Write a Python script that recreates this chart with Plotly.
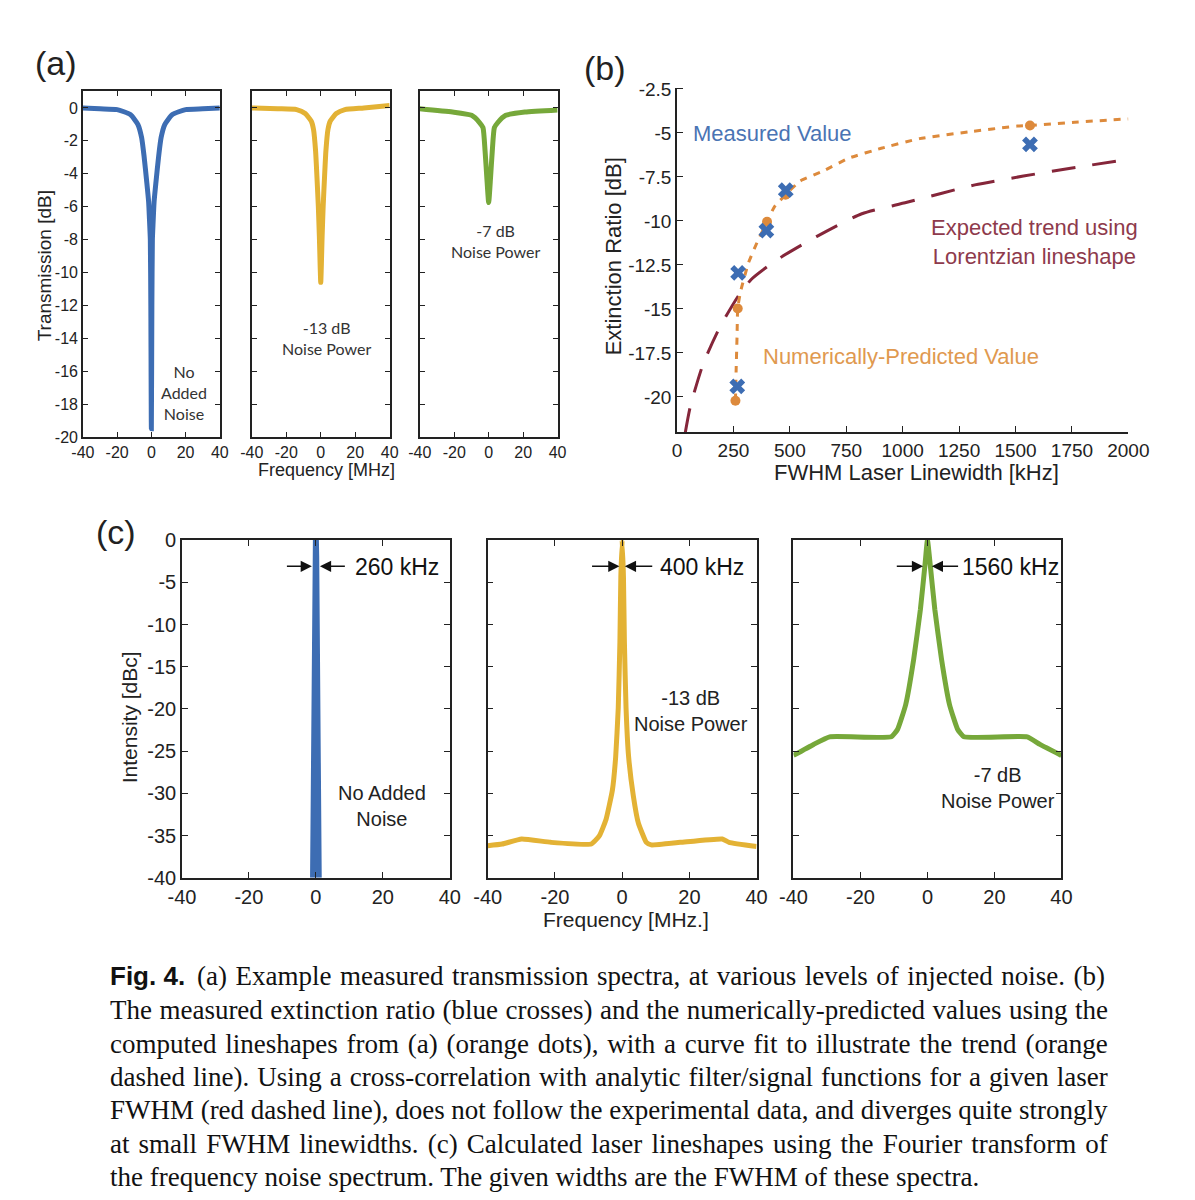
import plotly.graph_objects as go

# ---------------- data ----------------
# (a) measured transmission spectra [MHz, dB]
a1_x = [-40, -30, -20, -12.3, -7.9, -5.7, -4.3, -2.7, -1.6, -1.0, -0.6, -0.3, 0,
        0.3, 0.6, 1.0, 1.6, 2.7, 4.3, 5.7, 7.9, 12.3, 20, 30, 40]
a1_y = [0, -0.05, -0.1, -0.4, -1.0, -1.8, -2.9, -4.5, -5.7, -7.0, -8.0, -12, -19.5,
        -12, -8.0, -7.0, -5.7, -4.5, -2.9, -1.8, -1.0, -0.4, -0.1, -0.05, 0]
a2_x = [-40, -25, -14, -9, -5.5, -4.2, -3.0, -2.2, -1.4, -0.8, 0,
        0.8, 1.4, 2.2, 3.0, 4.2, 5.5, 9, 14, 25, 40]
a2_y = [0, -0.05, -0.1, -0.34, -0.8, -1.3, -2.6, -4.2, -6.0, -7.8, -10.6,
        -7.8, -6.0, -4.2, -2.6, -1.3, -0.8, -0.34, -0.1, 0.0, 0.15]
a3_x = [-40, -21, -9.9, -5.2, -3.3, -2.1, -1.1, 0, 1.1, 2.1, 3.3, 5.2, 9.9, 21, 40]
a3_y = [-0.05, -0.25, -0.45, -0.9, -1.2, -2.6, -4.2, -5.75, -4.2, -2.6, -1.2, -0.9, -0.45, -0.25, -0.12]

# (b) extinction ratio vs FWHM linewidth [kHz, dB]
meas_x = [267, 271, 396, 482, 1564]
meas_y = [-19.4, -12.95, -10.55, -8.25, -5.65]
pred_x = [259, 269, 399, 481, 1564]
pred_y = [-20.22, -14.97, -10.05, -8.51, -4.58]
fit_x = [259, 262, 266, 269, 281, 317, 360, 399, 431, 481, 546, 647, 761, 905, 1075, 1290, 1507, 1564, 1763, 2000]
fit_y = [-20.22, -18.5, -16.6, -14.97, -14.04, -12.37, -11.07, -10.05, -9.21, -8.51, -7.73, -7.17, -6.43, -5.87, -5.32, -4.94, -4.61, -4.58, -4.39, -4.2]
lor_x = [37, 59, 116, 188, 274, 331, 446, 618, 819, 1019, 1320, 1535, 1751, 2000]
lor_y = [-22.0, -20.54, -18.12, -16.08, -14.22, -13.3, -12.18, -10.89, -9.59, -8.94, -7.95, -7.45, -6.99, -6.5]

# (c) calculated lineshapes [MHz, dBc]
c1_x = [-0.85, -0.1, 0, 0.1, 0.85]
c1_y = [-40, -2, 0, -2, -40]
c2_x = [-40, -35.7, -29.9, -21.2, -9.2, -6.75, -4.8, -2.9, -1.93, -1.16, -0.67, -0.39, 0,
        0.39, 0.67, 1.16, 1.93, 3.37, 4.82, 7.2, 8.67, 17.3, 29.8, 31.8, 40]
c2_y = [-36.2, -36.0, -35.4, -35.8, -36.0, -35.0, -33.1, -29.6, -25.7, -19.9, -12.1, -4.35, 0,
        -4.35, -12.1, -19.9, -25.7, -30.4, -33.5, -35.8, -36.1, -35.8, -35.4, -35.8, -36.3]
c3_x = [-40, -34, -29.2, -10.8, -8.9, -6.5, -4.1, -2.1, -0.7, 0, 0.8, 2.2, 4.2, 6.6, 9, 10.9, 29.8, 33.6, 40]
c3_y = [-25.5, -24.2, -23.3, -23.3, -22.4, -19.5, -14.1, -8.2, -2.8, 0, -2.8, -8.2, -14.1, -19.5, -22.4, -23.3, -23.3, -24.2, -25.5]

# tick labels
a_xticks = [-40, -20, 0, 20, 40]
a_xticktext = ["-40", "-20", "0", "20", "40"]
a_yticks = [0, -2, -4, -6, -8, -10, -12, -14, -16, -18, -20]
a_yticktext = ["0", "-2", "-4", "-6", "-8", "-10", "-12", "-14", "-16", "-18", "-20"]
b_xticks = [0, 250, 500, 750, 1000, 1250, 1500, 1750, 2000]
b_yticks = [-2.5, -5, -7.5, -10, -12.5, -15, -17.5, -20]
b_yticktext = ["-2.5", "-5", "-7.5", "-10", "-12.5", "-15", "-17.5", "-20"]
c_yticks = [0, -5, -10, -15, -20, -25, -30, -35, -40]
c_yticktext = ["0", "-5", "-10", "-15", "-20", "-25", "-30", "-35", "-40"]

caption_first = "(a) Example measured transmission spectra, at various levels of injected noise. (b)"
caption_lines = [
    "The measured extinction ratio (blue crosses) and the numerically-predicted values using the",
    "computed lineshapes from (a) (orange dots), with a curve fit to illustrate the trend (orange",
    "dashed line). Using a cross-correlation with analytic filter/signal functions for a given laser",
    "FWHM (red dashed line), does not follow the experimental data, and diverges quite strongly",
    "at small FWHM linewidths. (c) Calculated laser lineshapes using the Fourier transform of",
    "the frequency noise spectrum. The given widths are the FWHM of these spectra.",
]

# ---------------- style ----------------
BLUE = "#3d6db3"
YELLOW = "#e3b235"
GREEN = "#76a83a"
ORANGE = "#dd8a3c"
RED = "#85263a"
W, H = 1195, 1200
SANS = "Liberation Sans, Arial, sans-serif"
HUM = "Lato, Open Sans, sans-serif"
SERIF = "Liberation Serif, Times New Roman, serif"
CAP_SIZE = 27

# Times metrics (1/1000 em) used to justify caption lines
_TW = {" ": 250, "(": 333, ")": 333, ",": 250, "-": 333, ".": 250, "/": 278}
_TW.update({d: 500 for d in "0123456789"})
_TW.update(dict(zip("ABCDEFGHIJKLMNOPQRSTUVWXYZ",
                    [722, 667, 667, 722, 611, 556, 722, 722, 333, 389, 722, 611, 889, 722, 722, 556, 722, 667, 556, 611, 722, 722, 944, 722, 722, 611])))
_TW.update(dict(zip("abcdefghijklmnopqrstuvwxyz",
                    [444, 500, 444, 500, 444, 333, 500, 500, 278, 278, 500, 278, 778, 500, 500, 500, 500, 333, 389, 278, 500, 500, 722, 500, 500, 444])))


def justified(text, target_px, size):
    nat = sum(_TW.get(ch, 500) for ch in text) / 1000.0 * size
    n_sp = text.count(" ")
    ws = (target_px - nat) / n_sp if n_sp else 0
    return f'<span style="word-spacing:{ws:.2f}px">{text}</span>'


def px(x):
    return x / W


def py(y):
    return 1 - y / H


fig = go.Figure()

fig.add_trace(go.Scatter(x=a1_x, y=a1_y, mode="lines", line=dict(color=BLUE, width=5, shape="spline", smoothing=0.5), xaxis="x", yaxis="y"))
fig.add_trace(go.Scatter(x=a2_x, y=a2_y, mode="lines", line=dict(color=YELLOW, width=5, shape="spline", smoothing=0.5), xaxis="x2", yaxis="y2"))
fig.add_trace(go.Scatter(x=a3_x, y=a3_y, mode="lines", line=dict(color=GREEN, width=5, shape="spline", smoothing=0.5), xaxis="x3", yaxis="y3"))

fig.add_trace(go.Scatter(x=lor_x, y=lor_y, mode="lines", line=dict(color=RED, width=3, dash="24px,17px", shape="spline", smoothing=0.6), xaxis="x4", yaxis="y4"))
fig.add_trace(go.Scatter(x=fit_x, y=fit_y, mode="lines", line=dict(color=ORANGE, width=3, dash="7px,7px", shape="spline", smoothing=0.4), xaxis="x4", yaxis="y4"))
fig.add_trace(go.Scatter(x=pred_x, y=pred_y, mode="markers", marker=dict(color=ORANGE, size=10), xaxis="x4", yaxis="y4"))
fig.add_trace(go.Scatter(x=meas_x, y=meas_y, mode="markers", marker=dict(color=BLUE, size=14, symbol="x", line=dict(width=0)), xaxis="x4", yaxis="y4"))

fig.add_trace(go.Scatter(x=c1_x, y=c1_y, mode="lines", line=dict(color=BLUE, width=6), xaxis="x5", yaxis="y5"))
fig.add_trace(go.Scatter(x=c2_x, y=c2_y, mode="lines", line=dict(color=YELLOW, width=5, shape="spline", smoothing=0.4), xaxis="x6", yaxis="y6"))
fig.add_trace(go.Scatter(x=c3_x, y=c3_y, mode="lines", line=dict(color=GREEN, width=5, shape="spline", smoothing=0.4), xaxis="x7", yaxis="y7"))

axis_common = dict(showline=True, linecolor="#222", linewidth=1.5, ticks="inside", tickcolor="#222",
                   ticklen=5, showgrid=False, zeroline=False)

layout = dict(width=W, height=H, margin=dict(l=0, r=0, t=0, b=0), paper_bgcolor="white",
              plot_bgcolor="white", showlegend=False, font=dict(family=SANS, color="#222"))

# panel (a)
a_dom_x = [(71, 212), (245, 387), (418, 560)]
for i, (l, r) in enumerate(a_dom_x):
    n = "" if i == 0 else str(i + 1)
    layout["xaxis" + n] = dict(axis_common, domain=[px(l), px(r)], range=[-40, 40], tickvals=a_xticks,
                               ticktext=a_xticktext, mirror="ticks", tickfont=dict(size=16), anchor="y" + n)
    layout["yaxis" + n] = dict(axis_common, domain=[py(434), py(82)], range=[-20, 1], tickvals=a_yticks,
                               ticktext=a_yticktext, mirror="ticks", tickfont=dict(size=16),
                               showticklabels=(i == 0), anchor="x" + n)

# panel (b)
layout["xaxis4"] = dict(axis_common, domain=[px(683), px(1148)], range=[0, 2000], tickvals=b_xticks,
                        tickfont=dict(size=19), anchor="y4", ticklen=6)
layout["yaxis4"] = dict(axis_common, domain=[py(429), py(78)], range=[-22.0, -2.42], tickvals=b_yticks,
                        ticktext=b_yticktext, tickfont=dict(size=19), anchor="x4", ticklen=6)

# panel (c)
c_dom_x = [(173, 449), (488, 765), (803, 1079)]
for i, (l, r) in enumerate(c_dom_x):
    n = str(i + 5)
    layout["xaxis" + n] = dict(axis_common, domain=[px(l), px(r)], range=[-40, 40], tickvals=a_xticks,
                               ticktext=a_xticktext, mirror="ticks", tickfont=dict(size=20), anchor="y" + n, ticklen=6)
    layout["yaxis" + n] = dict(axis_common, domain=[py(883), py(539)], range=[-40, 0], tickvals=c_yticks,
                               ticktext=c_yticktext, mirror="ticks", tickfont=dict(size=20),
                               showticklabels=(i == 0), anchor="x" + n, ticklen=6)

fig.update_layout(**layout)

ann = []


def paper_text(text, x, y, size, family=SANS, color="#222", angle=0, xanchor="center", bold=False):
    ann.append(dict(text=(f"<b>{text}</b>" if bold else text), x=px(x), y=py(y), xref="paper", yref="paper",
                    showarrow=False, font=dict(size=size, family=family, color=color), textangle=angle,
                    xanchor=xanchor, yanchor="middle"))


def data_text(text, x, y, ax_n, size, family=SANS, color="#222", xanchor="center"):
    ann.append(dict(text=text, x=x, y=y, xref="x" + ax_n, yref="y" + ax_n, showarrow=False,
                    font=dict(size=size, family=family, color=color), xanchor=xanchor, yanchor="middle"))


# panel labels
paper_text("(a)", 43, 53, 34)
paper_text("(b)", 609, 58, 34)
paper_text("(c)", 105, 531, 34)

# axis titles
paper_text("Transmission [dB]", 31, 260, 19, angle=-90)
paper_text("Frequency [MHz]", 322, 468, 18)
paper_text("Extinction Ratio [dB]", 618, 250, 22, angle=-90)
paper_text("FWHM Laser Linewidth [kHz]", 930, 470, 22)
paper_text("Intensity [dBc]", 119, 720, 21, angle=-90)
paper_text("Frequency [MHz.]", 630, 925, 21)

# panel (a) labels
data_text("No<br>Added<br>Noise", 19, -17.3, "", 16, family=HUM, color="#333")
data_text("-13 dB<br>Noise Power", 3.4, -14.0, "2", 16, family=HUM, color="#333")
data_text("-7 dB<br>Noise Power", 3.9, -8.06, "3", 16, family=HUM, color="#333")

# panel (b) labels
data_text("Measured Value", 424, -5.04, "4", 22, color="#4a74b4")
data_text("Numerically-Predicted Value", 993, -17.68, "4", 22, color="#e0994f")
data_text("Expected trend using<br>Lorentzian lineshape", 1583, -11.22, "4", 22, color="#8e3a4c")

# panel (c) labels
data_text("No Added<br>Noise", 19.7, -31.5, "5", 20)
data_text("-13 dB<br>Noise Power", 20.4, -20.2, "6", 20)
data_text("-7 dB<br>Noise Power", 21.2, -29.4, "7", 20)

# FWHM arrows and widths
fwhm_labels = [("260 kHz", "5", 1.2, 9.1, 11.2), ("400 kHz", "6", 0.8, 9.4, 10.6), ("1560 kHz", "7", 1.3, 9.6, 9.7)]
for lab, n, head, tail, tx in fwhm_labels:
    for s in (-1, 1):
        ann.append(dict(text="", x=s * head, y=-3.1, ax=s * tail, ay=-3.1, xref="x" + n, yref="y" + n,
                        axref="x" + n, ayref="y" + n, showarrow=True, arrowhead=2, arrowsize=1.4,
                        arrowwidth=1.6, arrowcolor="#111", standoff=0, startstandoff=0))
    data_text(lab, tx, -3.2, n, 23, xanchor="left", color="#111")

# caption
paper_text("Fig. 4.", 97, 983, 26, family=SANS, xanchor="left", bold=True, color="#111")
paper_text(justified(caption_first, 1095 - 187, CAP_SIZE), 186, 983, CAP_SIZE, family=SERIF, xanchor="left", color="#111")
for k, line in enumerate(caption_lines):
    txt = line if k == len(caption_lines) - 1 else justified(line, 1095 - 97, CAP_SIZE)
    paper_text(txt, 97, 1018 + 34 * k, CAP_SIZE, family=SERIF, xanchor="left", color="#111")

fig.update_layout(annotations=ann)
fig.write_html("out.html", post_script="document.body.style.margin='0';")
